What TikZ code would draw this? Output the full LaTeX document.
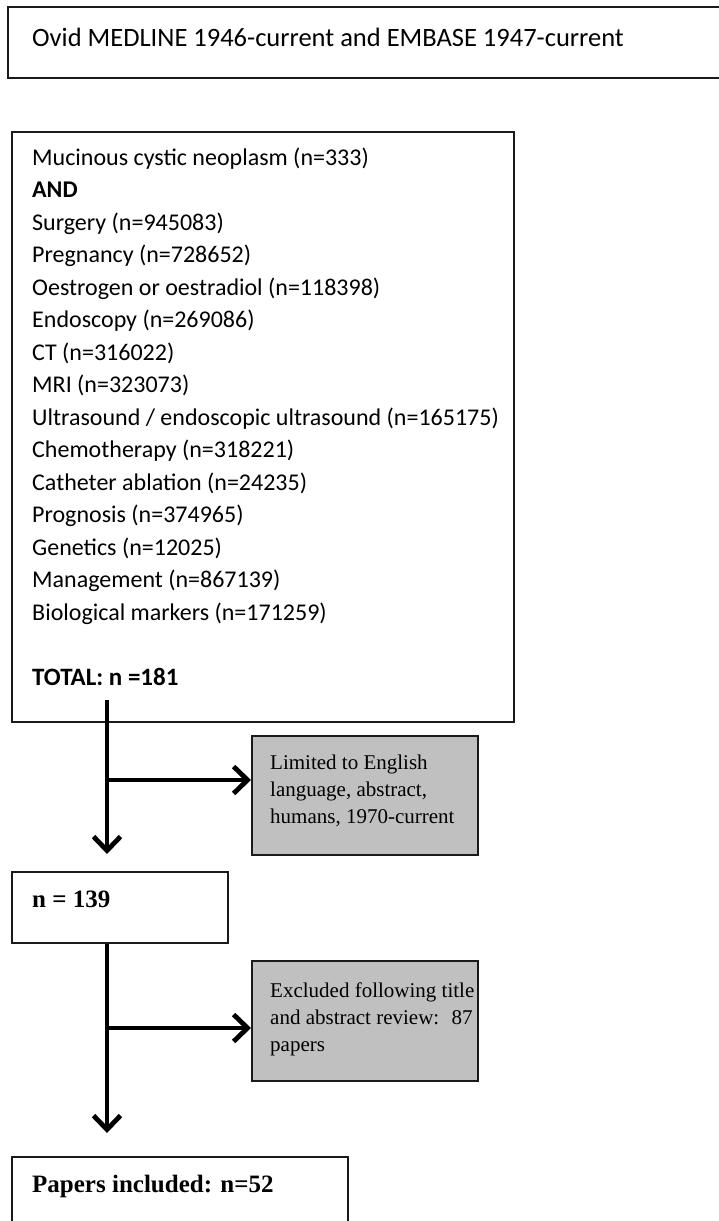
\documentclass[tikz,border=0pt]{standalone}
\usepackage{fontspec}
\setmainfont{Liberation Serif}
\newfontfamily\calibrifont{Carlito}
\usetikzlibrary{arrows.meta,positioning,calc}
\definecolor{ink}{HTML}{000000}
\definecolor{frame}{HTML}{1A1A1A}
\definecolor{shade}{HTML}{C0C0C0}

\begin{document}
\begin{tikzpicture}[x=1pt,y=-1pt]
    \tikzset{
      searchbox/.style={draw=frame,line width=1.5pt,anchor=north west,inner sep=0pt},
      filterbox/.style={searchbox,fill=shade},
      termline/.style={anchor=base west,inner sep=0pt,font=\calibrifont\fontsize{24}{32.5}\selectfont},
      filtertext/.style={anchor=north west,inner sep=0pt,align=left,font=\fontsize{21}{27}\selectfont},
      counttext/.style={anchor=base west,inner sep=0pt,font=\bfseries\fontsize{25}{30}\selectfont},
      flow/.style={-{Straight Barb[length=14pt,width=27pt]},draw=ink,line width=4.8pt}
    }
    \useasboundingbox (0,0) rectangle (718,1221);
    % search boxes
    \node[searchbox,minimum width=730pt,minimum height=71pt] (db) at (7,6) {};
    \node[termline,font=\calibrifont\fontsize{26.5}{32}\selectfont] (dbtext) at (32,46) {Ovid MEDLINE 1946-current and EMBASE 1947-current};
    \node[searchbox,minimum width=502pt,minimum height=590pt] (terms) at (11,131) {};
    \foreach \term [count=\i] in {Mucinous cystic neoplasm (n=333),\textbf{AND},Surgery (n=945083),
        Pregnancy (n=728652),Oestrogen or oestradiol (n=118398),Endoscopy (n=269086),CT (n=316022),
        MRI (n=323073),Ultrasound / endoscopic ultrasound (n=165175),Chemotherapy (n=318221),
        Catheter ablation (n=24235),Prognosis (n=374965),Genetics (n=12025),Management (n=867139),
        Biological markers (n=171259)}
      \node[termline] (term\i) at (32,{165+32.5*(\i-1)}) {\term};
    \node[termline,font=\calibrifont\fontsize{25}{32.5}\selectfont] (total) at (32,685) {\textbf{TOTAL: n =181}};
    % filters and counts
    \node[filterbox,minimum width=226pt,minimum height=119pt] (limits) at (251,735) {};
    \node[filtertext] (limitstext) at (270,755) {Limited to English\\language, abstract,\\humans, 1970-current};
    \node[searchbox,minimum width=216pt,minimum height=71pt] (screened) at (11,871) {};
    \node[counttext] (screenedtext) at (32,907) {n = 139};
    \node[filterbox,minimum width=226pt,minimum height=120pt] (excluded) at (251,960) {};
    \node[filtertext] (excludedtext) at (270,982) {Excluded following title\\and abstract review:~ 87\\papers};
    \node[searchbox,minimum width=336pt,minimum height=100pt] (included) at (11,1156) {};
    \node[counttext] (includedtext) at (32,1192) {Papers included: n=52};
    % connectors
    \coordinate (trunk) at (107,700);
    \coordinate (fork1) at (107,780);
    \coordinate (fork2) at (107,1028);
    \draw[flow,shorten >=17pt] (trunk) -- (trunk |- screened.north);
    \draw[flow] (fork1) -- (fork1 -| limits.west);
    \draw[flow,shorten >=23pt] (trunk |- screened.south) -- (trunk |- included.north);
    \draw[flow] (fork2) -- (fork2 -| excluded.west);
  \end{tikzpicture}
\end{document}
